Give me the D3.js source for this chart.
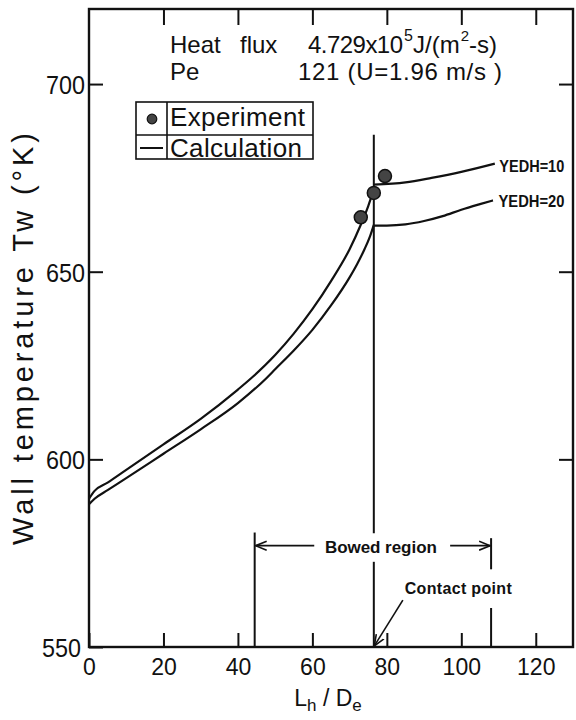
<!DOCTYPE html>
<meta charset="utf-8">

<style type="text/css">
  body {
    margin: 0;
    background: #fff;
  }

  svg {
    font-family: "Liberation Sans", Arial, sans-serif;
    fill: #111;
  }

  .axis line {
    stroke: #111;
    stroke-width: 2px;
  }

  .curve {
    fill: none;
    stroke: #111;
    stroke-width: 2.2px;
  }

  .note {
    font-weight: bold;
  }
</style>

<body>
</body>

<script src="https://cdn.jsdelivr.net/npm/d3@7"></script>
<script>
  // tick values
  var xTicks = [0, 20, 40, 60, 80, 100, 120];
  var yTicks = [550, 600, 650, 700];
  var yTicksRight = [600, 650, 700];

  // calculation, heated length up to the contact point
  var lhdeUp = [0, 1.5, 5, 10, 20, 30, 40, 44, 50, 55, 60, 65, 70, 73, 75, 76.5];
  var twUp = [589.5, 591.6, 593.8, 597.2, 604, 610.8, 618.6, 622, 627.8, 633.5, 640, 647.5, 656, 662.5, 667.5, 672];
  var lhdeLow = [0, 1.5, 5, 10, 20, 30, 40, 47.5, 50, 55, 60, 65, 70, 72, 74, 75.5, 76.5];
  var twLow = [588, 589.5, 591.8, 595, 601.5, 608, 615, 621.5, 624, 629, 634.5, 641, 648.5, 652, 656, 659.5, 662.5];

  // calculation after the contact point
  var lhde10 = [76.5, 85, 92, 100, 109];
  var tw10 = [673.2, 673.8, 675, 676.6, 678.8];
  var lhde20 = [76.5, 80, 85, 90, 95, 100, 105, 108.5];
  var tw20 = [662.3, 662.3, 662.6, 663.5, 664.8, 666.5, 668, 669];

  // experiment
  var expLhde = [73, 76.5, 79.5];
  var expTw = [664.5, 671, 675.5];

  var contactLhde = 76.5;
  var bowedLhde = [44.5, 108];

  var margin = {
      top: 9,
      right: 3,
      bottom: 73,
      left: 89
    },
    width = 576 - margin.left - margin.right,
    height = 720 - margin.top - margin.bottom;

  var x = d3.scaleLinear().domain([0, 130]).range([0, width]),
    y = d3.scaleLinear().domain([550, 720]).range([height, 0]);

  var svg = d3.select("body")
    .append("svg")
    .attr("width", 576)
    .attr("height", 720);

  var defs = svg.append("defs");
  defs.append("marker")
    .attr("id", "arr")
    .attr("viewBox", "0 -6 12 12")
    .attr("refX", 11)
    .attr("refY", 0)
    .attr("markerUnits", "userSpaceOnUse")
    .attr("markerWidth", 12)
    .attr("markerHeight", 12)
    .attr("orient", "auto")
    .append("path")
    .attr("d", "M0,-4.5L11,0L0,4.5")
    .style("fill", "none")
    .style("stroke", "#111")
    .style("stroke-width", 1.6);

  var g = svg.append("g")
    .attr("transform", "translate(" + margin.left + "," + margin.top + ")");

  // frame
  g.append("rect")
    .attr("width", width)
    .attr("height", height)
    .style("fill", "none")
    .style("stroke", "#111")
    .style("stroke-width", 2.4);

  // axes, ticks pointing inward
  var xAxis = g.append("g")
    .attr("class", "axis")
    .attr("transform", "translate(0," + height + ")")
    .call(d3.axisBottom(x).tickValues(xTicks).tickSize(-14).tickPadding(12));
  xAxis.selectAll("text").style("font-size", "23px").style("fill", "#111");

  var yAxis = g.append("g")
    .attr("class", "axis")
    .call(d3.axisLeft(y).tickValues(yTicks).tickSize(-14).tickPadding(4));
  yAxis.selectAll("text")
    .style("font-size", "26px")
    .style("fill", "#111")
    .attr("dy", "0.37em")
    .attr("textLength", 39)
    .attr("lengthAdjust", "spacingAndGlyphs")
    .attr("x", function(d) { return d === 550 ? -8 : -4; });

  g.append("g")
    .attr("class", "axis")
    .call(d3.axisTop(x).tickValues(xTicks.slice(1)).tickSize(-16).tickFormat(""));

  g.append("g")
    .attr("class", "axis")
    .attr("transform", "translate(" + width + ",0)")
    .call(d3.axisRight(y).tickValues(yTicksRight).tickSize(-14).tickFormat(""));

  g.selectAll(".axis path.domain").remove();

  // axis titles
  svg.append("text")
    .attr("transform", "translate(33,339) rotate(-90)")
    .style("text-anchor", "middle")
    .style("font-size", "29px")
    .attr("textLength", 412)
    .text("Wall temperature  Tw (°K)");

  var xl = svg.append("text")
    .attr("x", 328)
    .attr("y", 706)
    .style("text-anchor", "middle")
    .style("font-size", "23px");
  xl.append("tspan").text("L");
  xl.append("tspan").attr("dy", 5).style("font-size", "17px").text("h");
  xl.append("tspan").attr("dy", -5).text(" / D");
  xl.append("tspan").attr("dy", 5).style("font-size", "17px").text("e");

  // curves
  var line = d3.line()
    .x(function(d) { return x(d[0]); })
    .y(function(d) { return y(d[1]); })
    .curve(d3.curveMonotoneX);

  function pairs(xs, ys) {
    return xs.map(function(v, i) { return [v, ys[i]]; });
  }

  [pairs(lhdeUp, twUp), pairs(lhdeLow, twLow), pairs(lhde10, tw10), pairs(lhde20, tw20)]
    .forEach(function(d) {
      g.append("path")
        .attr("class", "curve")
        .attr("d", line(d));
    });

  // contact point line, broken round the "Bowed region" text
  g.append("line")
    .attr("x1", x(contactLhde)).attr("x2", x(contactLhde))
    .attr("y1", y(686.5)).attr("y2", y(580.3))
    .style("stroke", "#111").style("stroke-width", 2);
  g.append("line")
    .attr("x1", x(contactLhde)).attr("x2", x(contactLhde))
    .attr("y1", y(572.7)).attr("y2", y(550))
    .style("stroke", "#111").style("stroke-width", 2);

  // bowed region
  g.append("line")
    .attr("x1", x(bowedLhde[0])).attr("x2", x(bowedLhde[0]))
    .attr("y1", y(580.5)).attr("y2", y(550))
    .style("stroke", "#111").style("stroke-width", 2);
  g.append("line")
    .attr("x1", x(bowedLhde[1])).attr("x2", x(bowedLhde[1]))
    .attr("y1", y(579)).attr("y2", y(570.7))
    .style("stroke", "#111").style("stroke-width", 2);
  g.append("line")
    .attr("x1", x(bowedLhde[1])).attr("x2", x(bowedLhde[1]))
    .attr("y1", y(560.4)).attr("y2", y(550))
    .style("stroke", "#111").style("stroke-width", 2);

  g.append("line")
    .attr("x1", x(60.5)).attr("x2", x(bowedLhde[0]) + 1)
    .attr("y1", y(577)).attr("y2", y(577))
    .attr("marker-end", "url(#arr)")
    .style("stroke", "#111").style("stroke-width", 1.8);
  g.append("line")
    .attr("x1", x(97)).attr("x2", x(bowedLhde[1]) - 1)
    .attr("y1", y(577)).attr("y2", y(577))
    .attr("marker-end", "url(#arr)")
    .style("stroke", "#111").style("stroke-width", 1.8);

  g.append("text")
    .attr("class", "note")
    .attr("x", x(78.4))
    .attr("y", y(575))
    .style("text-anchor", "middle")
    .style("font-size", "17px")
    .attr("textLength", 112)
    .text("Bowed region");

  // contact point label and arrow
  g.append("text")
    .attr("class", "note")
    .attr("x", x(84.8))
    .attr("y", y(564))
    .style("font-size", "16px")
    .attr("textLength", 107)
    .text("Contact point");
  g.append("line")
    .attr("x1", x(84.3)).attr("y1", y(562.5))
    .attr("x2", x(contactLhde) + 0.5).attr("y2", y(550.3))
    .attr("marker-end", "url(#arr)")
    .style("stroke", "#111").style("stroke-width", 1.6);

  // YEDH labels
  g.append("text")
    .attr("class", "note")
    .attr("x", x(110.2))
    .attr("y", y(676.6))
    .style("font-size", "17px")
    .attr("textLength", 65)
    .attr("lengthAdjust", "spacingAndGlyphs")
    .text("YEDH=10");
  g.append("text")
    .attr("class", "note")
    .attr("x", x(110))
    .attr("y", y(667.3))
    .style("font-size", "17px")
    .attr("textLength", 66)
    .attr("lengthAdjust", "spacingAndGlyphs")
    .text("YEDH=20");

  // experiment points
  g.selectAll(".exp")
    .data(pairs(expLhde, expTw))
    .enter().append("circle")
    .attr("class", "exp")
    .attr("cx", function(d) { return x(d[0]); })
    .attr("cy", function(d) { return y(d[1]); })
    .attr("r", 6.5)
    .style("fill", "#444")
    .style("stroke", "#111")
    .style("stroke-width", 1.5);

  // conditions
  svg.append("text").attr("x", 170).attr("y", 53).style("font-size", "24px").text("Heat");
  svg.append("text").attr("x", 240).attr("y", 53).style("font-size", "24px").text("flux");
  svg.append("text").attr("x", 308).attr("y", 53).style("font-size", "24px")
    .attr("textLength", 95).text("4.729x10");
  svg.append("text").attr("x", 404).attr("y", 41).style("font-size", "16px").text("5");
  var unit = svg.append("text").attr("x", 413).attr("y", 53).style("font-size", "24px");
  unit.append("tspan").text("J/(m");
  unit.append("tspan").attr("dx", 1).attr("dy", -12).style("font-size", "15px").text("2");
  unit.append("tspan").attr("dy", 12).text("-s)");

  svg.append("text").attr("x", 170).attr("y", 80).style("font-size", "24px").text("Pe");
  svg.append("text").attr("x", 298).attr("y", 80).style("font-size", "24px")
    .attr("textLength", 204).text("121 (U=1.96 m/s )");

  // legend
  var legend = svg.append("g");
  legend.append("rect")
    .attr("x", 136).attr("y", 102)
    .attr("width", 177).attr("height", 57)
    .style("fill", "#fff")
    .style("stroke", "#111")
    .style("stroke-width", 1.6);
  legend.append("line")
    .attr("x1", 136).attr("x2", 313).attr("y1", 135).attr("y2", 135)
    .style("stroke", "#111").style("stroke-width", 1.6);
  legend.append("line")
    .attr("x1", 167).attr("x2", 167).attr("y1", 102).attr("y2", 159)
    .style("stroke", "#111").style("stroke-width", 1.6);
  legend.append("circle")
    .attr("cx", 152).attr("cy", 119).attr("r", 4.8)
    .style("fill", "#444").style("stroke", "#111").style("stroke-width", 1.2);
  legend.append("line")
    .attr("x1", 140).attr("x2", 163).attr("y1", 148).attr("y2", 148)
    .style("stroke", "#111").style("stroke-width", 2);
  legend.append("text").attr("x", 170).attr("y", 126).style("font-size", "26px")
    .attr("textLength", 135).text("Experiment");
  legend.append("text").attr("x", 170).attr("y", 157).style("font-size", "26px")
    .attr("textLength", 132).text("Calculation");
</script>
